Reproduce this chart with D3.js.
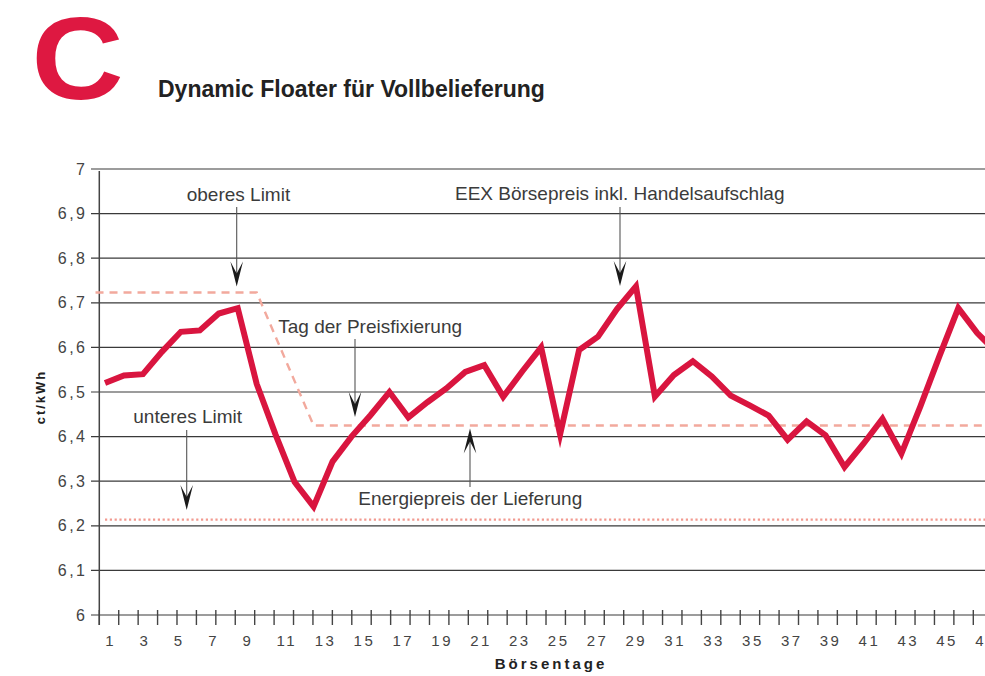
<!DOCTYPE html>
<html>
<head>
<meta charset="utf-8">
<script src="https://cdn.jsdelivr.net/npm/d3@7"></script>
<style>
  body { margin: 0; background: #fff; }
  svg { display: block; font-family: "Liberation Sans", Arial, Helvetica, sans-serif; }
</style>
</head>
<body>
<div id="chart"></div>
<script>
// GLOBALS
var width = 985;
var height = 676;
var red = "#d9153f";
var salmon = "#f2a99d";
var text_color = "#3b3b3b";
var grid_color = "#3a3a3a";

// chart data
var days = [1, 2, 3, 4, 5, 6, 7, 8, 9, 10, 11, 12, 13, 14, 15, 16, 17, 18, 19, 20, 21, 22, 23, 24,
            25, 26, 27, 28, 29, 30, 31, 32, 33, 34, 35, 36, 37, 38, 39, 40, 41, 42, 43, 44, 45, 46, 47, 48];
var price = [6.520, 6.537, 6.540, 6.590, 6.635, 6.638, 6.676, 6.688, 6.518, 6.404, 6.298, 6.243,
             6.344, 6.400, 6.448, 6.500, 6.443, 6.477, 6.508, 6.545, 6.560, 6.489, 6.546, 6.600,
             6.405, 6.594, 6.624, 6.686, 6.737, 6.490, 6.538, 6.569, 6.535, 6.492, 6.470, 6.447,
             6.393, 6.434, 6.403, 6.332, 6.384, 6.440, 6.362, 6.468, 6.580, 6.688, 6.632, 6.590];

// upper limit, dropping to the delivery price after the day of fixing
var upper_days = [0.5, 9, 12, 48];
var upper_vals = [6.723, 6.723, 6.425, 6.425];
// lower limit
var lower_days = [1, 48];
var lower_vals = [6.214, 6.214];

var y_ticks = [6, 6.1, 6.2, 6.3, 6.4, 6.5, 6.6, 6.7, 6.8, 6.9, 7];
var x_tick_count = 46;                  // tick marks along the bottom
var x_labels = [1, 3, 5, 7, 9, 11, 13, 15, 17, 19, 21, 23, 25, 27, 29, 31, 33, 35, 37, 39, 41, 43, 45, 47];

/* annotations: text, text x, text y, arrow x, arrow start y, arrow tip y */
var notes = [
  ["oberes Limit", 186.7, 200.7, 236.7, 207, 286.5],
  ["EEX Börsepreis inkl. Handelsaufschlag", 455, 200, 620, 207, 286],
  ["Tag der Preisfixierung", 278.3, 333.3, 355, 339, 417],
  ["unteres Limit", 133.3, 423.3, 186.7, 430, 510],
  ["Energiepreis der Lieferung", 358.3, 505, 470, 487, 428.5]
];

var svg = d3.select("#chart").append("svg")
  .attr("width", width)
  .attr("height", height);

/* scales */
var y = d3.scaleLinear().domain([6, 7]).range([615, 169]);
var x = d3.scaleLinear().domain([1, 46]).range([105, 958.3]);       // data positions
var x_tick = d3.scaleLinear().domain([0, 45]).range([99.3, 973.3]); // tick marks

/* big letter and title */
svg.append("text")
  .attr("transform", "translate(31.5,98.5) scale(1.1,1)")
  .attr("fill", "#de1841")
  .style("font-size", "116px")
  .style("font-weight", "bold")
  .text("C");

svg.append("text")
  .attr("x", 158)
  .attr("y", 97)
  .attr("fill", "#222")
  .style("font-size", "23px")
  .style("font-weight", "bold")
  .text("Dynamic Floater für Vollbelieferung");

/* grid lines */
svg.append("g")
  .selectAll("line")
  .data(y_ticks)
  .enter()
  .append("line")
  .attr("x1", 91)
  .attr("x2", width)
  .attr("y1", function(d) { return y(d); })
  .attr("y2", function(d) { return y(d); })
  .attr("stroke", grid_color)
  .attr("stroke-width", 1.2);

// y tick labels
svg.append("g")
  .selectAll("text")
  .data(y_ticks)
  .enter()
  .append("text")
  .attr("x", 87.5)
  .attr("y", function(d) { return y(d) + 5.5; })
  .attr("text-anchor", "end")
  .attr("fill", "#444")
  .style("font-size", "16px")
  .style("letter-spacing", "2.5px")
  .text(function(d) { return d3.format(".1~f")(d).replace(".", ","); });

/* axis line and tick marks */
svg.append("line")
  .attr("x1", 99.3).attr("x2", 99.3)
  .attr("y1", 171).attr("y2", 625)
  .attr("stroke", "#444")
  .attr("stroke-width", 1.5);

svg.append("g")
  .selectAll("line")
  .data(d3.range(x_tick_count))
  .enter()
  .append("line")
  .attr("x1", function(d) { return x_tick(d); })
  .attr("x2", function(d) { return x_tick(d); })
  .attr("y1", 610)
  .attr("y2", 625)
  .attr("stroke", "#444")
  .attr("stroke-width", 1.4);

// x labels sit a bit left of their tick, the one-digit ones drift right
svg.append("g")
  .selectAll("text")
  .data(x_labels)
  .enter()
  .append("text")
  .attr("x", function(d) {
    var shift = -8 + Math.max(0, 9 - d) * 2.25;
    return x_tick(d - 1) + shift + 1.25;
  })
  .attr("y", 645.5)
  .attr("text-anchor", "middle")
  .attr("fill", "#444")
  .style("font-size", "15px")
  .style("letter-spacing", "2.5px")
  .text(function(d) { return d; });

/* axis titles */
svg.append("text")
  .attr("x", 551)
  .attr("y", 669)
  .attr("text-anchor", "middle")
  .attr("fill", "#222")
  .style("font-size", "15px")
  .style("font-weight", "bold")
  .style("letter-spacing", "3px")
  .text("Börsentage");

svg.append("text")
  .attr("transform", "translate(45,397) rotate(-90)")
  .attr("text-anchor", "middle")
  .attr("fill", "#222")
  .style("font-size", "13px")
  .style("font-weight", "bold")
  .style("letter-spacing", "2px")
  .text("ct/kWh");

/* limit lines */
var upper_line = d3.line()
  .x(function(d, i) { return x(upper_days[i]); })
  .y(function(d) { return y(d); });

svg.append("path")
  .attr("d", upper_line(upper_vals))
  .attr("fill", "none")
  .attr("stroke", salmon)
  .attr("stroke-width", 2.4)
  .attr("stroke-dasharray", "8,6");

var lower_line = d3.line()
  .x(function(d, i) { return x(lower_days[i]); })
  .y(function(d) { return y(d); });

svg.append("path")
  .attr("d", lower_line(lower_vals))
  .attr("fill", "none")
  .attr("stroke", "#f29a90")
  .attr("stroke-width", 2.2)
  .attr("stroke-dasharray", "2.2,2.6");

/* price line */
var price_line = d3.line()
  .x(function(d, i) { return x(days[i]); })
  .y(function(d) { return y(d); });

svg.append("path")
  .attr("d", price_line(price))
  .attr("fill", "none")
  .attr("stroke", red)
  .attr("stroke-width", 6)
  .attr("stroke-linejoin", "miter")
  .attr("stroke-miterlimit", 6);

/* annotations with arrows */
var note = svg.append("g").selectAll("g")
  .data(notes)
  .enter()
  .append("g");

note.append("text")
  .attr("x", function(d) { return d[1]; })
  .attr("y", function(d) { return d[2]; })
  .attr("fill", text_color)
  .style("font-size", "19px")
  .text(function(d) { return d[0]; });

note.append("line")
  .attr("x1", function(d) { return d[3]; })
  .attr("x2", function(d) { return d[3]; })
  .attr("y1", function(d) { return d[4]; })
  .attr("y2", function(d) { return d[5] + (d[5] > d[4] ? -12 : 12); })
  .attr("stroke", "#555")
  .attr("stroke-width", 1.1);

// arrow head: tip at 0,0 pointing down, flipped for upward arrows
note.append("path")
  .attr("transform", function(d) {
    return "translate(" + d[3] + "," + d[5] + ")" + (d[5] > d[4] ? "" : " scale(1,-1)");
  })
  .attr("d", "M0,0 L-6.3,-25 L0,-13 L6.3,-25 Z")
  .attr("fill", "#1a1a1a");
</script>
</body>
</html>
